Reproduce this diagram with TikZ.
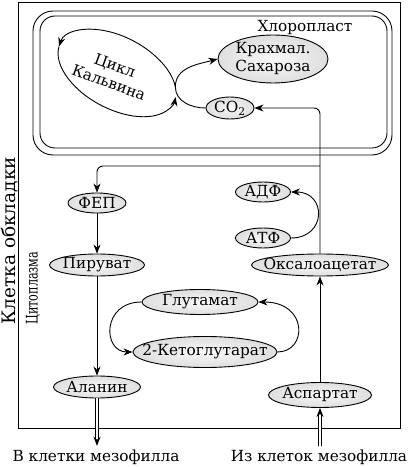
\documentclass[tikz,border=0pt]{standalone}
\usepackage{fontspec}
\setmainfont{DejaVu Serif}
\newfontfamily\narrowfont{DejaVu Serif}[FakeStretch=0.7]
\usetikzlibrary{positioning,shapes.geometric,arrows.meta,calc}
\pgfdeclareradialshading{metshade}{\pgfpoint{0bp}{0bp}}{color(0bp)=(gray!5); color(28bp)=(gray!28); color(50bp)=(gray!62)}

\begin{document}
\begin{tikzpicture}[
  x=1pt, y=1pt, line width=0.9pt,
  every node/.style={font=\fontsize{15.3}{18}\selectfont},
  met/.style={ellipse, draw, shade, shading=metshade, inner xsep=-14pt,
              inner ysep=-5pt, minimum height=22pt, align=center},
  side/.style={rotate=90, anchor=west, inner sep=0pt},
  flow/.style={-{Stealth[length=9pt,width=7pt]}}
]
  \useasboundingbox (0,0) rectangle (409,467);

  % Bundle sheath cell
  \draw (18,39) rectangle (400,465);
  \node[side, font=\fontsize{18.5}{20}\selectfont] (cell) at (10,142) {Клетка обкладки};
  \node[side, font=\narrowfont\fontsize{16}{18}\selectfont] (cyto) at (33,142) {Цитоплазма};

  % Chloroplast
  \draw[rounded corners=20] (33,312) rectangle (392,456);
  \draw[rounded corners=15] (40,319) rectangle (387,451);
  \node (chl) at (305,439) {Хлоропласт};

  % Calvin cycle
  \coordinate (cyc) at (117,394);
  \draw[flow, shift={(cyc)}, rotate=-28] (25:64 and 36) coordinate (junc)
       arc[start angle=25, end angle=186, x radius=64, y radius=36];
  \draw[flow, shift={(cyc)}, rotate=-28] (186:64 and 36)
       arc[start angle=186, end angle=370, x radius=64, y radius=36];
  \node[rotate=-20, align=center] (calvin) at (112,393) {Цикл\\Кальвина};

  \node[met, minimum width=110pt, minimum height=48pt] (starch) at (273,408) {Крахмал.\\Сахароза};
  \node[met, minimum width=48pt] (co2) at (230,359) {CO\textsubscript{2}};

  % Cytoplasm
  \node[met, minimum width=58pt, minimum height=20pt] (fep) at (97,264) {ФЕП};
  \node[met, minimum width=95pt] (pyr) at (97,202) {Пируват};
  \node[met, minimum width=87pt] (ala) at (97,80) {Аланин};
  \node[met, minimum width=55pt, minimum height=20pt] (adp) at (263,275) {АДФ};
  \node[met, minimum width=55pt, minimum height=20pt] (atp) at (263,229) {АТФ};
  \node[met, minimum width=137pt] (oaa) at (320,202) {Оксалоацетат};
  \node[met, minimum width=116pt, minimum height=25pt] (glu) at (200,165) {Глутамат};
  \node[met, minimum width=144pt, minimum height=31pt] (akg) at (205,115) {2-Кетоглутарат};
  \node[met, minimum width=103pt, minimum height=25pt] (asp) at (320,72) {Аспартат};

  % Mesophyll labels
  \node (toms) at (96,10) {В клетки мезофилла};
  \node (fromms) at (319,10) {Из клеток мезофилла};

  % Connectors
  \coordinate (split) at (320,301);
  \draw[flow] (co2.west) to[out=180, in=-90] (junc) to[out=90, in=195] (starch.west);
  \draw[flow, rounded corners=6] (oaa.north) |- (co2.east);
  \draw[flow, rounded corners=6] (split) -| (fep.north);
  \draw[flow] (fep) -- (pyr);
  \draw[flow] (pyr) -- (ala);
  \draw[flow] (atp.east) to[out=0, in=0, looseness=2] (adp.east);
  \draw[flow] (akg.east) .. controls +(30,0) and +(50,0) .. (glu.east);
  \draw[flow] (glu.west) .. controls +(-40,0) and +(-30,0) .. (akg.west);
  \draw[flow] (asp) -- (oaa);
  \draw[flow, double, double distance=2pt] (ala.south) -- (ala.south |- toms.north);
  \draw[flow, double, double distance=2pt] (asp.south |- fromms.north) -- (asp.south);
\end{tikzpicture}
\end{document}
